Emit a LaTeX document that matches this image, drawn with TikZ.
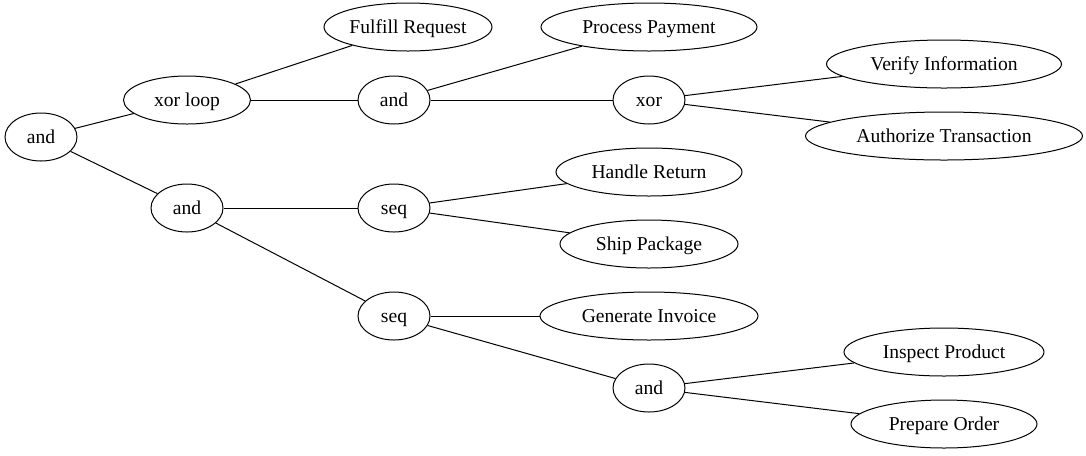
\documentclass[tikz,border=0pt]{standalone}
\usepackage{fontspec}
\setmainfont{Liberation Serif}
\usetikzlibrary{shapes.geometric}
\tikzset{
  el/.style={ellipse,draw,line width=0.75pt,minimum height=36pt,minimum width=#1*0.75pt,inner sep=0pt,
    text height=9pt,text depth=0pt,font=\rmfamily\fontsize{14.7pt}{16pt}\selectfont},
  edge/.style={draw,line width=0.75pt}
}
\begin{document}
\begin{tikzpicture}[x=0.75pt,y=-0.75pt]
\useasboundingbox (0,0) rectangle (1086,455);
\node[el=72]  (root)  at (41,137)  {and};
\node[el=127] (xl)    at (187,100) {xor loop};
\node[el=72]  (a2)    at (187,208) {and};
\node[el=168] (ff)    at (408,27)  {Fulfill Request};
\node[el=72]  (am)    at (394,100) {and};
\node[el=216] (pp)    at (649,27)  {Process Payment};
\node[el=72]  (xr)    at (649,100) {xor};
\node[el=235] (vi)    at (944,64)  {Verify Information};
\node[el=277] (at)    at (944,136) {Authorize Transaction};
\node[el=72]  (su)    at (394,208) {seq};
\node[el=186] (hr)    at (649,172) {Handle Return};
\node[el=178] (sp)    at (649,244) {Ship Package};
\node[el=72]  (sl)    at (394,316) {seq};
\node[el=218] (gi)    at (649,316) {Generate Invoice};
\node[el=72]  (al)    at (649,388) {and};
\node[el=200] (ip)    at (944,352) {Inspect Product};
\node[el=186] (po)    at (944,424) {Prepare Order};
\path[edge] (root) -- (xl);
\path[edge] (root) -- (a2);
\path[edge] (xl) -- (ff);
\path[edge] (xl) -- (am);
\path[edge] (am) -- (pp);
\path[edge] (am) -- (xr);
\path[edge] (xr) -- (vi);
\path[edge] (xr) -- (at);
\path[edge] (a2) -- (su);
\path[edge] (a2) -- (sl);
\path[edge] (su) -- (hr);
\path[edge] (su) -- (sp);
\path[edge] (sl) -- (gi);
\path[edge] (sl) -- (al);
\path[edge] (al) -- (ip);
\path[edge] (al) -- (po);
\end{tikzpicture}
\end{document}
